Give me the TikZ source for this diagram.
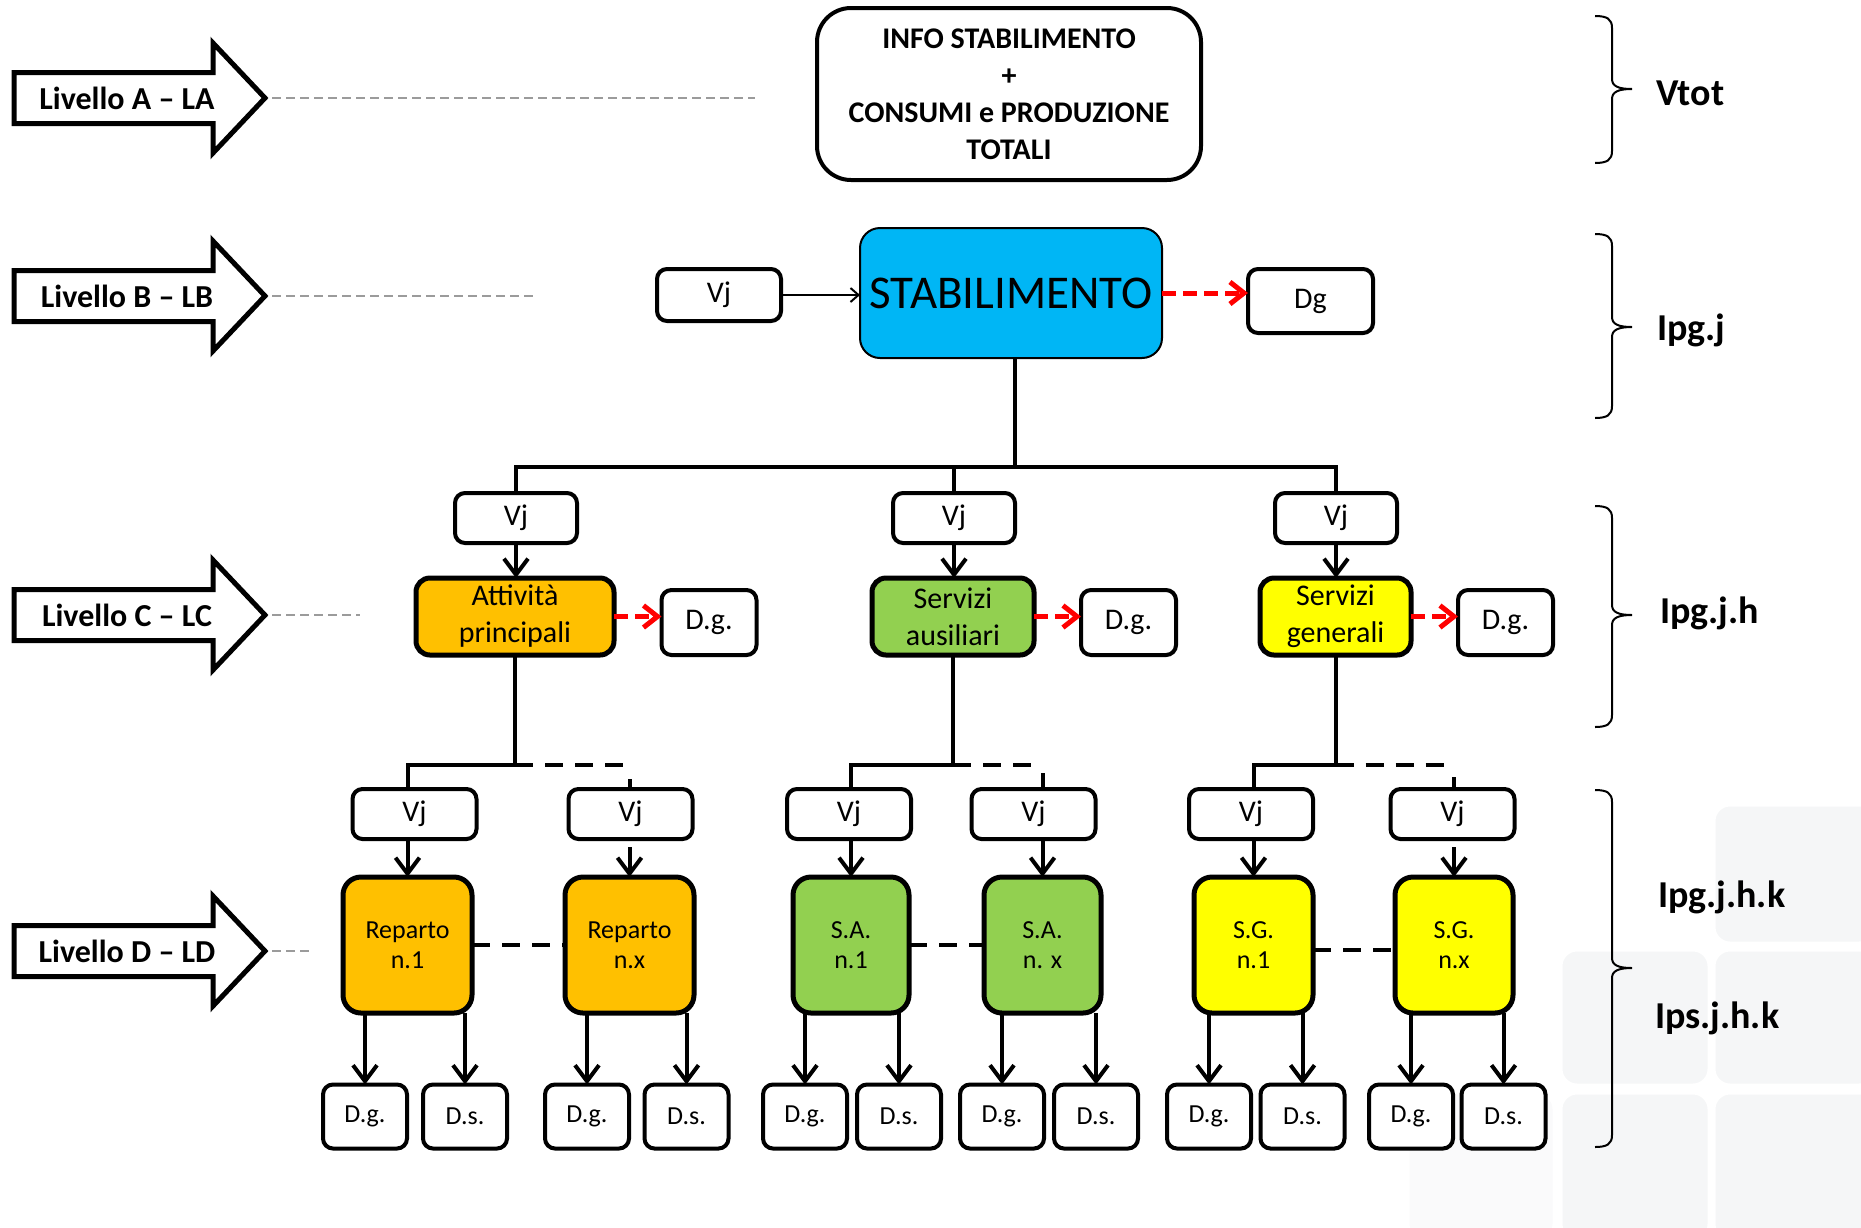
\documentclass[tikz,border=0pt]{standalone}
\usepackage{fontspec}
\setmainfont{Carlito}
\usetikzlibrary{arrows.meta,calc}
\definecolor{stabblue}{RGB}{0,182,245}
\definecolor{orangeC}{RGB}{255,192,0}
\definecolor{greenC}{RGB}{146,208,80}
\definecolor{yellowC}{RGB}{255,255,0}
\definecolor{redC}{RGB}{255,0,0}
\definecolor{dashgray}{RGB}{155,155,155}
\definecolor{tilecol}{RGB}{245,246,247}
\definecolor{tilefaint}{RGB}{250,250,251}

\newcommand\lvarrow[3]{%
  \draw[lvshape] (14,#2-25.5) -- (213,#2-25.5) -- (213,#2-55) -- (265,#2) -- (213,#2+55) -- (213,#2+25.5) -- (14,#2+25.5) -- cycle;
  \node[lvtext] (#1) at (127,#2) {#3};
  \coordinate (#1tip) at (272,#2);}
\newcommand\mybrace[4]{%
  \draw[bracestyle] (1595,#2) .. controls (1607,#2) and (1612,#2+3) .. (1612,#2+12) -- (1612,#3-10) .. controls (1612,#3-3) and (1618,#3) .. (1632,#3) .. controls (1618,#3) and (1612,#3+3) .. (1612,#3+10) -- (1612,#4-12) .. controls (1612,#4-3) and (1607,#4) .. (1595,#4);
  \coordinate (#1) at (1632,#3);}

\begin{document}
\begin{tikzpicture}[x=0.5pt,y=-0.5pt,
  every node/.style={inner sep=0pt, outer sep=0pt},
  conn/.style={line width=2pt},
  dconn/.style={line width=2pt, dash pattern=on 9pt off 6pt},
  arr/.style={line width=2pt, -{Straight Barb[length=8pt,width=12pt]}},
  thinarr/.style={line width=1pt, -{Straight Barb[length=4pt,width=7pt]}},
  redarr/.style={line width=2.5pt, draw=redC, dash pattern=on 7pt off 3.5pt, -{Straight Barb[length=7pt,width=11pt]}},
  graydash/.style={line width=1pt, draw=dashgray, dash pattern=on 4.5pt off 2.5pt},
  lvshape/.style={draw, line width=2.5pt, fill=white, line join=miter},
  lvtext/.style={font=\fontsize{16}{19}\selectfont\bfseries},
  bracestyle/.style={line width=1pt},
  lbl/.style={font=\fontsize{19}{22}\selectfont\bfseries, anchor=base west},
  box/.style={draw, line width=2pt, rounded corners=5pt, fill=white, font=\fontsize{15}{18}\selectfont, align=center},
  vjbox/.style={box, minimum width=62pt, minimum height=25pt},
  cbox/.style={draw, line width=2.5pt, rounded corners=7pt, minimum height=38.5pt, font=\fontsize{15}{18.5}\selectfont, align=center},
  dbox/.style={draw, line width=2.5pt, rounded corners=9pt, minimum height=68pt, font=\fontsize{13}{15}\selectfont, align=center},
  bbox/.style={box, minimum width=42pt, minimum height=32pt, font=\fontsize{13}{15}\selectfont},
  tile/.style={fill=tilecol, draw=white, line width=1.5pt, rounded corners=8pt}
]
\useasboundingbox[fill=white] (0,0) rectangle (1861,1227);

% background tiles
\fill[tile] (1714,805) rectangle (1875,943);
\fill[tile] (1561,950) rectangle (1709,1085);
\fill[tile] (1714,950) rectangle (1875,1085);
\fill[tile] (1561,1093) rectangle (1709,1240);
\fill[tile] (1714,1093) rectangle (1875,1240);
\fill[tile, fill=tilefaint] (1408,1093) rectangle (1554,1240);

% level arrows
\lvarrow{LA}{98}{Livello A -- LA}
\lvarrow{LB}{296}{Livello B -- LB}
\lvarrow{LC}{615}{Livello C -- LC}
\lvarrow{LD}{951}{Livello D -- LD}
\coordinate (LAend) at (755,98);
\coordinate (LBend) at (533,296);
\coordinate (LCend) at (360,615);
\coordinate (LDend) at (311,951);
\draw[graydash] (LAtip) -- (LAend);
\draw[graydash] (LBtip) -- (LBend);
\draw[graydash] (LCtip) -- (LCend);
\draw[graydash] (LDtip) -- (LDend);

% level A
\node[box, minimum width=192pt, minimum height=86pt, rounded corners=17pt, font=\fontsize{15}{18.5}\selectfont\bfseries] (info) at (1009,94) {INFO STABILIMENTO\\+\\CONSUMI e PRODUZIONE\\TOTALI};

% level B
\node[draw, line width=1pt, fill=stabblue, rounded corners=10pt, minimum width=151pt, minimum height=65pt, font=\fontsize{23.5}{28}\selectfont] (stab) at (1011,293) {STABILIMENTO};
\node[box, minimum width=62pt, minimum height=26pt] (vjB) at (719,295) {Vj};
\node[box, minimum width=62.5pt, minimum height=32pt] (dg) at (1310.5,301) {Dg};
\draw[thinarr] (vjB.east) -- (vjB.east -| stab.west);
\draw[redarr] (stab.east) -- (stab.east -| dg.west);

% level C
\node[vjbox, minimum width=61pt] (vjC1) at (516,518) {Vj};
\node[vjbox, minimum width=61pt] (vjC2) at (954,518) {Vj};
\node[vjbox, minimum width=61pt] (vjC3) at (1336,518) {Vj};
\coordinate (hub) at (1015,467);
\draw[conn] (vjC1.north) -- (vjC1.north |- hub) -- (vjC3.north |- hub) -- (vjC3.north);
\draw[conn] (stab.south -| hub) -- (hub);
\draw[conn] (vjC2.north |- hub) -- (vjC2.north);

\node[cbox, fill=orangeC, minimum width=99pt] (cA) at (515,616.5) {Attività\\principali};
\node[cbox, fill=greenC, minimum width=81pt] (cB) at (953,616.5) {Servizi\\ausiliari};
\node[cbox, fill=yellowC, minimum width=75.5pt] (cC) at (1335.5,616.5) {Servizi\\generali};
\draw[arr] (vjC1.south) -- (vjC1.south |- cA.north);
\draw[arr] (vjC2.south) -- (vjC2.south |- cB.north);
\draw[arr] (vjC3.south) -- (vjC3.south |- cC.north);

\node[box, minimum width=47.5pt, minimum height=32.5pt] (dgA) at (709,622.5) {D.g.};
\node[box, minimum width=47.5pt, minimum height=32.5pt] (dgB) at (1128.5,622.5) {D.g.};
\node[box, minimum width=47.5pt, minimum height=32.5pt] (dgC) at (1505.5,622.5) {D.g.};
\draw[redarr] (cA.east) -- (cA.east -| dgA.west);
\draw[redarr] (cB.east) -- (cB.east -| dgB.west);
\draw[redarr] (cC.east) -- (cC.east -| dgC.west);

% level D
\node[vjbox] (vjD1) at (414.5,814) {Vj};
\node[vjbox] (vjD2) at (630.5,814) {Vj};
\node[vjbox] (vjD3) at (849,814) {Vj};
\node[vjbox] (vjD4) at (1033.5,814) {Vj};
\node[vjbox] (vjD5) at (1251,814) {Vj};
\node[vjbox] (vjD6) at (1452.5,814) {Vj};

\node[dbox, fill=orangeC, minimum width=64.5pt] (dA1) at (407.5,945) {Reparto\\n.1};
\node[dbox, fill=orangeC, minimum width=64.5pt] (dA2) at (629.5,945) {Reparto\\n.x};
\node[dbox, fill=greenC, minimum width=58pt] (dB1) at (851,945) {S.A.\\n.1};
\node[dbox, fill=greenC, minimum width=58.5pt] (dB2) at (1042.5,945) {S.A.\\n. x};
\node[dbox, fill=yellowC, minimum width=59.5pt] (dC1) at (1253.5,945) {S.G.\\n.1};
\node[dbox, fill=yellowC, minimum width=59pt] (dC2) at (1454,945) {S.G.\\n.x};

\coordinate (bA) at (515,765);
\coordinate (bB) at (953,765);
\coordinate (bC) at (1335.5,765);
\draw[conn] (cA.south) -- (bA) -| (vjD1.north -| dA1.north);
\draw[conn] (cB.south) -- (bB) -| (vjD3.north -| dB1.north);
\draw[conn] (cC.south) -- (bC) -| (vjD5.north -| dC1.north);
\draw[dconn] (bA) -- (bA -| dA2.north);
\draw[dconn] (bB) -- (bB -| dB2.north);
\draw[dconn] (bC) -- (bC -| dC2.north);
\draw[conn] (vjD2.north -| dA2.north) -- ++(0,-10);
\draw[conn] (vjD4.north -| dB2.north) -- ++(0,-16);
\draw[conn] (vjD6.north -| dC2.north) -- ++(0,-12);

\draw[arr] (vjD1.south -| dA1.north) -- (dA1.north);
\draw[arr] ($(dA2.north)+(0,-30)$) -- (dA2.north);
\draw[arr] (vjD3.south -| dB1.north) -- (dB1.north);
\draw[arr] (vjD4.south -| dB2.north) -- (dB2.north);
\draw[arr] (vjD5.south -| dC1.north) -- (dC1.north);
\draw[arr] ($(dC2.north)+(0,-30)$) -- (dC2.north);

\draw[dconn] (dA1.east) -- (dA2.west);
\draw[dconn] (dB1.east) -- (dB2.west);
\draw[dconn] ([yshift=-2.5pt]dC1.east) -- ([yshift=-2.5pt]dC2.west);

% bottom boxes
\node[bbox] (b1) at (365,1116.5) {D.g.};
\node[bbox] (b2) at (465,1116.5) {D.s.};
\node[bbox] (b3) at (587,1116.5) {D.g.};
\node[bbox] (b4) at (686.5,1116.5) {D.s.};
\node[bbox] (b5) at (805,1116.5) {D.g.};
\node[bbox] (b6) at (899,1116.5) {D.s.};
\node[bbox] (b7) at (1002,1116.5) {D.g.};
\node[bbox] (b8) at (1096,1116.5) {D.s.};
\node[bbox] (b9) at (1209,1116.5) {D.g.};
\node[bbox] (b10) at (1302.5,1116.5) {D.s.};
\node[bbox] (b11) at (1411,1116.5) {D.g.};
\node[bbox] (b12) at (1503.5,1116.5) {D.s.};
\draw[arr] (dA1.south -| b1.north) -- (b1.north);
\draw[arr] (dA1.south -| b2.north) -- (b2.north);
\draw[arr] (dA2.south -| b3.north) -- (b3.north);
\draw[arr] (dA2.south -| b4.north) -- (b4.north);
\draw[arr] (dB1.south -| b5.north) -- (b5.north);
\draw[arr] (dB1.south -| b6.north) -- (b6.north);
\draw[arr] (dB2.south -| b7.north) -- (b7.north);
\draw[arr] (dB2.south -| b8.north) -- (b8.north);
\draw[arr] (dC1.south -| b9.north) -- (b9.north);
\draw[arr] (dC1.south -| b10.north) -- (b10.north);
\draw[arr] (dC2.south -| b11.north) -- (b11.north);
\draw[arr] (dC2.south -| b12.north) -- (b12.north);

% braces and labels
\mybrace{brA}{16}{89}{163}
\mybrace{brB}{234}{327}{418}
\mybrace{brC}{506}{615}{727}
\mybrace{brD}{790}{968}{1147}
\node[lbl] (lblA) at (1656,105) {Vtot};
\node[lbl] (lblB) at (1657,340) {Ipg.j};
\node[lbl] (lblC) at (1660,623) {Ipg.j.h};
\node[lbl] (lblD1) at (1658,907) {Ipg.j.h.k};
\node[lbl] (lblD2) at (1655,1028) {Ips.j.h.k};
\end{tikzpicture}
\end{document}
